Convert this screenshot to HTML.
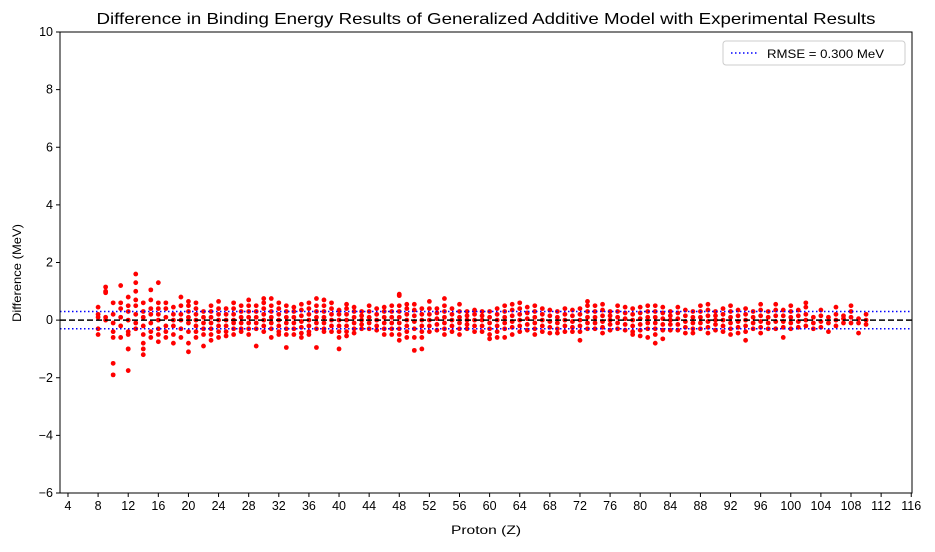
<!DOCTYPE html>
<html><head><meta charset="utf-8"><style>
body{margin:0;background:#fff;}
svg text{font-family:"Liberation Sans",sans-serif;fill:#000;}
</style></head><body>
<svg id="chart" width="935" height="547">
<text x="486" y="24" font-size="16" text-anchor="middle" textLength="779" lengthAdjust="spacingAndGlyphs">Difference in Binding Energy Results of Generalized Additive Model with Experimental Results</text>
<g id="plot"></g>
<rect x="60" y="32" width="852" height="461" fill="none" stroke="#000" stroke-width="1"/>
<text x="486" y="534" font-size="12" text-anchor="middle" textLength="70" lengthAdjust="spacingAndGlyphs">Proton (Z)</text>
<text x="21" y="273" font-size="12" text-anchor="middle" textLength="98" lengthAdjust="spacingAndGlyphs" transform="rotate(-90 21 273)">Difference (MeV)</text>
<g>
<rect x="723" y="41" width="182" height="24" fill="#fff" stroke="#ccc" rx="3"/>
<line x1="731" y1="53" x2="759" y2="53" stroke="#0000ff" stroke-width="1.5" stroke-dasharray="1.5,2.5"/>
<text x="767" y="58" font-size="12" textLength="117" lengthAdjust="spacingAndGlyphs">RMSE = 0.300 MeV</text>
</g>
</svg>
<script>
const xTicks=[4,8,12,16,20,24,28,32,36,40,44,48,52,56,60,64,68,72,76,80,84,88,92,96,100,104,108,112,116];
const yTicks=[-6,-4,-2,0,2,4,6,8,10];
const rmse=0.300;
const zValues=[8,9,10,11,12,13,14,15,16,17,18,19,20,21,22,23,24,25,26,27,28,29,30,31,32,33,34,35,36,37,38,39,40,41,42,43,44,45,46,47,48,49,50,51,52,53,54,55,56,57,58,59,60,61,62,63,64,65,66,67,68,69,70,71,72,73,74,75,76,77,78,79,80,81,82,83,84,85,86,87,88,89,90,91,92,93,94,95,96,97,98,99,100,101,102,103,104,105,106,107,108,109,110];
const diffValues=[
[0.45,0.1,-0.3,-0.5,0.2],
[1.15,1.0,0.95,0.1,0.0],
[0.6,0.2,-0.1,-0.4,-0.6,-1.5,-1.9],
[1.2,0.6,0.4,0.1,-0.2,-0.6],
[0.8,0.5,0.3,0.0,-0.4,-0.5,-1.0,-1.0,-1.75],
[1.6,1.3,1.0,0.7,0.5,0.2,-0.1,-0.3],
[0.6,0.3,0.1,-0.2,-0.5,-0.8,-1.0,-1.2],
[1.05,0.7,0.4,0.2,-0.1,-0.4,-0.6],
[1.3,0.6,0.4,0.2,0,-0.3,-0.5,-0.75],
[0.6,0.4,0.1,-0.2,-0.4,-0.6],
[0.45,0.2,0,-0.2,-0.5,-0.8],
[0.8,0.5,0.2,0,-0.3,-0.6],
[0.65,0.5,0.3,0.1,-0.1,-0.4,-0.8,-1.1],
[0.6,0.4,0.2,0,-0.2,-0.4,-0.6],
[0.3,0.1,-0.1,-0.3,-0.5,-0.9],
[0.5,0.3,0.1,-0.1,-0.3,-0.5,-0.7],
[0.65,0.4,0.2,0,-0.2,-0.4,-0.6],
[0.4,0.2,0,-0.2,-0.4,-0.55],
[0.6,0.4,0.2,0,-0.1,-0.3,-0.5],
[0.5,0.3,0.1,-0.1,-0.3,-0.4],
[0.7,0.5,0.3,0.1,-0.1,-0.3,-0.5],
[0.5,0.3,0.1,-0.1,-0.3,-0.9],
[0.75,0.6,0.4,0.2,0,-0.2,-0.4],
[0.75,0.5,0.3,0.1,-0.1,-0.3,-0.6],
[0.6,0.4,0.2,0,-0.2,-0.4,-0.5],
[0.5,0.3,0.1,-0.1,-0.3,-0.5,-0.95],
[0.45,0.3,0.1,-0.1,-0.3,-0.5],
[0.55,0.35,0.15,-0.05,-0.25,-0.45,-0.6],
[0.6,0.4,0.2,0,-0.2,-0.4,-0.5],
[0.75,0.5,0.3,0.1,-0.1,-0.3,-0.95],
[0.7,0.5,0.3,0.1,-0.1,-0.3,-0.4],
[0.6,0.4,0.2,0,-0.2,-0.4],
[0.35,0.2,0,-0.2,-0.4,-0.6,-1.0],
[0.55,0.4,0.2,0,-0.2,-0.4,-0.55],
[0.45,0.3,0.1,-0.1,-0.3,-0.45],
[0.3,0.15,0,-0.15,-0.3],
[0.5,0.3,0.1,-0.1,-0.3],
[0.4,0.2,0,-0.2,-0.35],
[0.45,0.3,0.1,-0.1,-0.3,-0.5],
[0.5,0.3,0.1,-0.1,-0.3,-0.5],
[0.9,0.85,0.5,0.3,0.1,-0.1,-0.3,-0.5,-0.7],
[0.55,0.4,0.2,0,-0.2,-0.4,-0.6],
[0.55,0.35,0.15,-0.05,-0.3,-0.6,-1.05],
[0.4,0.2,0,-0.2,-0.4,-0.6,-1.0],
[0.65,0.4,0.2,0,-0.2,-0.4],
[0.4,0.25,0.05,-0.15,-0.35],
[0.75,0.5,0.3,0.1,-0.1,-0.3,-0.5],
[0.4,0.2,0,-0.2,-0.4],
[0.55,0.3,0.1,-0.1,-0.3,-0.5],
[0.3,0.15,0,-0.15,-0.3],
[0.35,0.2,0,-0.2,-0.4],
[0.3,0.15,0,-0.2,-0.4],
[0.3,0.1,-0.1,-0.3,-0.5,-0.65],
[0.4,0.2,0,-0.2,-0.4,-0.6],
[0.5,0.3,0.1,-0.1,-0.3,-0.6],
[0.55,0.35,0.15,-0.05,-0.25,-0.5],
[0.6,0.4,0.2,0,-0.2,-0.4],
[0.45,0.25,0.05,-0.15,-0.35],
[0.5,0.3,0.1,-0.1,-0.3,-0.5],
[0.4,0.2,0,-0.2,-0.4],
[0.35,0.15,-0.05,-0.25,-0.45],
[0.3,0.1,-0.1,-0.3,-0.45],
[0.4,0.2,0,-0.2,-0.4],
[0.35,0.15,-0.05,-0.25,-0.4],
[0.4,0.2,0,-0.2,-0.4,-0.7],
[0.65,0.5,0.3,0.1,-0.1,-0.3],
[0.5,0.3,0.1,-0.1,-0.3],
[0.55,0.35,0.15,-0.05,-0.25,-0.45],
[0.3,0.15,0,-0.15,-0.35],
[0.5,0.3,0.1,-0.1,-0.3],
[0.45,0.25,0.05,-0.15,-0.35],
[0.4,0.2,0,-0.2,-0.4,-0.5],
[0.45,0.25,0.05,-0.15,-0.35,-0.55],
[0.5,0.3,0.1,-0.1,-0.3,-0.6],
[0.5,0.3,0.1,-0.1,-0.3,-0.5,-0.8],
[0.45,0.25,0.05,-0.15,-0.35,-0.65],
[0.3,0.15,0,-0.15,-0.35],
[0.45,0.25,0.05,-0.15,-0.35],
[0.35,0.15,-0.05,-0.25,-0.45],
[0.3,0.1,-0.1,-0.3,-0.45],
[0.5,0.3,0.1,-0.1,-0.3],
[0.55,0.35,0.15,-0.05,-0.25,-0.45],
[0.3,0.15,0,-0.15,-0.35],
[0.4,0.2,0,-0.2,-0.4],
[0.5,0.3,0.1,-0.1,-0.3,-0.5],
[0.35,0.15,-0.05,-0.25,-0.45],
[0.4,0.2,0,-0.2,-0.4,-0.7],
[0.3,0.1,-0.1,-0.3],
[0.55,0.35,0.15,-0.05,-0.25,-0.45],
[0.3,0.1,-0.1,-0.3],
[0.55,0.35,0.15,-0.05,-0.3],
[0.35,0.15,-0.05,-0.25,-0.6],
[0.5,0.3,0.1,-0.1,-0.3],
[0.35,0.15,-0.05,-0.25],
[0.6,0.45,0.2,0,-0.2],
[0.1,-0.1,-0.3],
[0.35,0.15,-0.05,-0.25],
[0.1,-0.1,-0.4],
[0.45,0.2,0,-0.2],
[0.15,0.05,-0.1],
[0.5,0.3,0.1,-0.1],
[0.05,-0.1,-0.45],
[0.2,0,-0.15]
];
const NS="http://www.w3.org/2000/svg";
const L=60,R=912,T=32,B=493,xMin=2.94,xMax=116.1,yMin=-6,yMax=10;
const xs=v=>L+(v-xMin)/(xMax-xMin)*(R-L);
const ys=v=>B-(v-yMin)/(yMax-yMin)*(B-T);
const plot=document.getElementById('plot');
function mk(tag,attrs){const e=document.createElementNS(NS,tag);for(const k in attrs)e.setAttribute(k,attrs[k]);plot.appendChild(e);return e;}
xTicks.forEach(t=>{
  const l=mk('line',{x1:xs(t),x2:xs(t),y1:B,y2:B+4,stroke:'#000'});
  
  
  const tx=mk('text',{x:xs(t),y:B+17,'font-size':12.5,'text-anchor':'middle'});tx.textContent=t;
  
  
});
yTicks.forEach(t=>{
  const l=mk('line',{x1:L-4,x2:L,y1:ys(t),y2:ys(t),stroke:'#000'});
  
  
  const tx=mk('text',{x:L-7,y:ys(t)+4,'font-size':12.5,'text-anchor':'end'});tx.textContent=(t<0?'\u2212'+(-t):t);
  
  
});
zValues.forEach((z,i)=>{
  diffValues[i].forEach(v=>{
    const c=mk('circle',{cx:xs(z),cy:ys(v),r:2.4,fill:'#ff0000'});
    
    
  });
});
const zl=mk('line',{x1:L,x2:R,y1:ys(0),y2:ys(0),stroke:'#000','stroke-width':1.5,'stroke-dasharray':'6,3'});


[rmse,-rmse].forEach(v=>{
  const l=mk('line',{x1:L,x2:R,y1:ys(v),y2:ys(v),stroke:'#0000ff','stroke-width':1.5,'stroke-dasharray':'1.5,2.5'});
  
  
});
</script>
</body></html>
